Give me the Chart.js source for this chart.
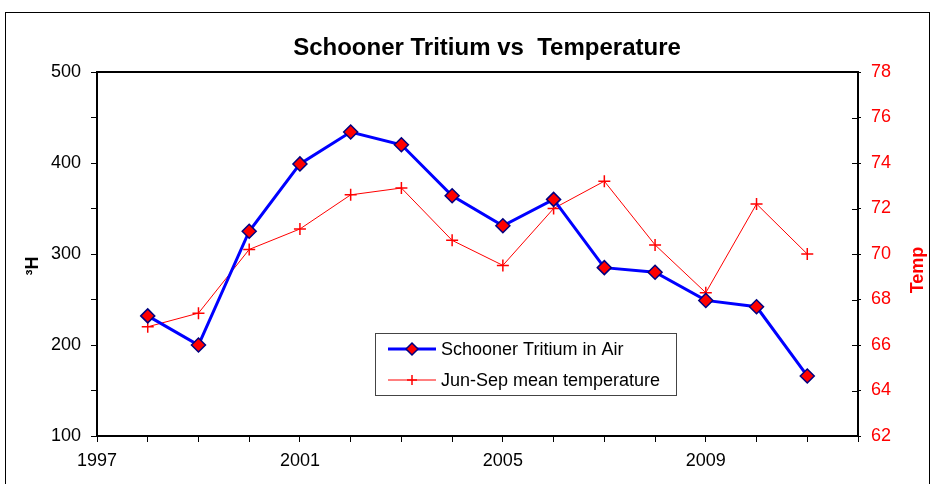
<!DOCTYPE html>
<html>
<head>
<meta charset="utf-8">
<script src="https://cdn.jsdelivr.net/npm/chart.js@4/dist/chart.umd.min.js"></script>
<style>
  html, body { margin: 0; padding: 0; background: #fff; }
  #wrap { position: relative; width: 935px; height: 484px; }
  canvas { display: block; }
</style>
</head>
<body>
<div id="wrap"><canvas id="c" width="935" height="484"></canvas></div>
<script>
// ---- data ----
const years = [1998, 1999, 2000, 2001, 2002, 2003, 2004, 2005, 2006, 2007, 2008, 2009, 2010, 2011];
const tritium = [232, 200, 325, 399, 434, 420, 364, 331, 360, 285, 280, 249, 242, 166];
const temperature = [66.8, 67.4, 70.2, 71.1, 72.6, 72.9, 70.6, 69.5, 72.0, 73.2, 70.4, 68.3, 72.2, 70.0];
const xTickLabels = ['1997', '2001', '2005', '2009'];
const leftTickLabels = ['100', '200', '300', '400', '500'];
const rightTickLabels = ['62', '64', '66', '68', '70', '72', '74', '76', '78'];
const seriesNames = ['Schooner Tritium in Air', 'Jun-Sep mean temperature'];
const titleText = 'Schooner Tritium vs  Temperature';
const leftAxisTitle = '\u00B3H';
const rightAxisTitle = 'Temp';

const FONT = '"Liberation Sans", Arial, sans-serif';

const frame = {
  id: 'frame',
  beforeDraw(chart) {
    const ctx = chart.ctx;
    ctx.save();
    ctx.fillStyle = '#fff';
    ctx.fillRect(0, 0, chart.width, chart.height);
    ctx.strokeStyle = '#000';
    ctx.lineWidth = 1;
    ctx.strokeRect(5.5, 12.5, 924, 490);
    ctx.restore();
  },
  beforeDatasetsDraw(chart) {
    const a = chart.chartArea, ctx = chart.ctx;
    ctx.save();
    ctx.strokeStyle = '#000';
    ctx.lineWidth = 2;
    ctx.strokeRect(a.left, a.top, a.right - a.left, a.bottom - a.top);
    // inward half of right-axis ticks (ticks cross the axis)
    const s = chart.scales.y1;
    ctx.lineWidth = 1;
    s.ticks.forEach(t => {
      const py = Math.round(s.getPixelForValue(t.value)) + 0.5;
      ctx.beginPath();
      ctx.moveTo(a.right - 6, py);
      ctx.lineTo(a.right, py);
      ctx.stroke();
    });
    ctx.restore();
  },
  afterDraw(chart) {
    const ctx = chart.ctx;
    ctx.save();
    // axis titles
    ctx.font = 'bold 18px ' + FONT;
    ctx.textAlign = 'center';
    ctx.textBaseline = 'middle';
    ctx.fillStyle = '#000';
    ctx.save();
    ctx.translate(33, 266);
    ctx.rotate(-Math.PI / 2);
    ctx.fillText(leftAxisTitle, 0, 0);
    ctx.restore();
    ctx.fillStyle = '#FF0000';
    ctx.save();
    ctx.translate(918, 270);
    ctx.rotate(-Math.PI / 2);
    ctx.fillText(rightAxisTitle, 0, 0);
    ctx.restore();

    // legend
    const bx = 375.5, by = 333.5, bw = 301, bh = 62;
    ctx.fillStyle = '#fff';
    ctx.fillRect(bx, by, bw, bh);
    ctx.strokeStyle = '#444';
    ctx.lineWidth = 1;
    ctx.strokeRect(bx, by, bw, bh);
    const rows = [349, 380];
    chart.data.datasets.forEach((ds, i) => {
      const y = rows[i];
      ctx.strokeStyle = ds.borderColor;
      ctx.lineWidth = ds.borderWidth;
      ctx.beginPath();
      ctx.moveTo(388, y);
      ctx.lineTo(436, y);
      ctx.stroke();
      ctx.fillStyle = ds.pointBackgroundColor;
      ctx.strokeStyle = ds.pointBorderColor;
      ctx.lineWidth = ds.pointBorderWidth;
      Chart.helpers.drawPoint(ctx, {
        pointStyle: ds.pointStyle,
        radius: ds.pointRadius - 1,
        borderWidth: ds.pointBorderWidth,
        rotation: 0
      }, 412, y);
      ctx.fillStyle = '#000';
      ctx.font = '18px ' + FONT;
      ctx.textAlign = 'left';
      ctx.textBaseline = 'middle';
      ctx.fillText(ds.label, 441, y + 1);
    });
    ctx.restore();
  }
};

const ctx = document.getElementById('c').getContext('2d');
new Chart(ctx, {
  type: 'line',
  data: {
    datasets: [
      {
        label: seriesNames[0],
        data: years.map((y, i) => ({ x: y, y: tritium[i] })),
        yAxisID: 'y',
        borderColor: '#0000FF',
        borderWidth: 3,
        pointStyle: 'rectRot',
        pointRadius: 7,
        pointBackgroundColor: '#FF0000',
        pointBorderColor: '#000080',
        pointBorderWidth: 1.5,
        tension: 0,
        fill: false
      },
      {
        label: seriesNames[1],
        data: years.map((y, i) => ({ x: y, y: temperature[i] })),
        yAxisID: 'y1',
        borderColor: '#FF0000',
        borderWidth: 1,
        pointStyle: 'cross',
        pointRadius: 6,
        pointBackgroundColor: '#FF0000',
        pointBorderColor: '#FF0000',
        pointBorderWidth: 1.5,
        tension: 0,
        fill: false
      }
    ]
  },
  options: {
    responsive: false,
    animation: false,
    devicePixelRatio: 1,
    layout: { padding: { left: 39, right: 0, top: 0, bottom: 0 } },
    plugins: {
      legend: { display: false },
      tooltip: { enabled: false },
      title: {
        display: true,
        text: titleText,
        color: '#000',
        font: { family: FONT, size: 24, weight: 'bold', lineHeight: 1.2 },
        padding: { top: 33.6, bottom: 9.6 }
      }
    },
    scales: {
      x: {
        type: 'linear',
        min: 1997,
        max: 2012,
        afterFit(s) { s.height = 48; },
        ticks: {
          stepSize: 1,
          autoSkip: false,
          maxRotation: 0,
          padding: 8,
          color: '#000',
          font: { family: FONT, size: 18 },
          callback: v => xTickLabels.includes(String(v)) ? String(v) : ''
        },
        grid: { drawOnChartArea: false, drawTicks: true, tickLength: 6, color: '#000', tickColor: '#000', lineWidth: 1 },
        border: { display: true, color: '#000', width: 2 }
      },
      y: {
        type: 'linear',
        position: 'left',
        min: 100,
        max: 500,
        afterFit(s) { s.width = 58; },
        ticks: {
          stepSize: 50,
          autoSkip: false,
          padding: 10,
          color: '#000',
          font: { family: FONT, size: 18 },
          callback: v => leftTickLabels.includes(String(v)) ? String(v) : ''
        },
        grid: { drawOnChartArea: false, drawTicks: true, tickLength: 6, color: '#000', tickColor: '#000', lineWidth: 1 },
        border: { display: true, color: '#000', width: 2 }
      },
      y1: {
        type: 'linear',
        position: 'right',
        min: 62,
        max: 78,
        afterFit(s) { s.width = 77; },
        ticks: {
          stepSize: 2,
          autoSkip: false,
          padding: 10,
          color: '#FF0000',
          font: { family: FONT, size: 18 },
          callback: v => rightTickLabels.includes(String(v)) ? String(v) : ''
        },
        grid: { drawOnChartArea: false, drawTicks: true, tickLength: 3, color: '#000', tickColor: '#000', lineWidth: 1 },
        border: { display: true, color: '#000', width: 2 }
      }
    }
  },
  plugins: [frame]
});
</script>
</body>
</html>
